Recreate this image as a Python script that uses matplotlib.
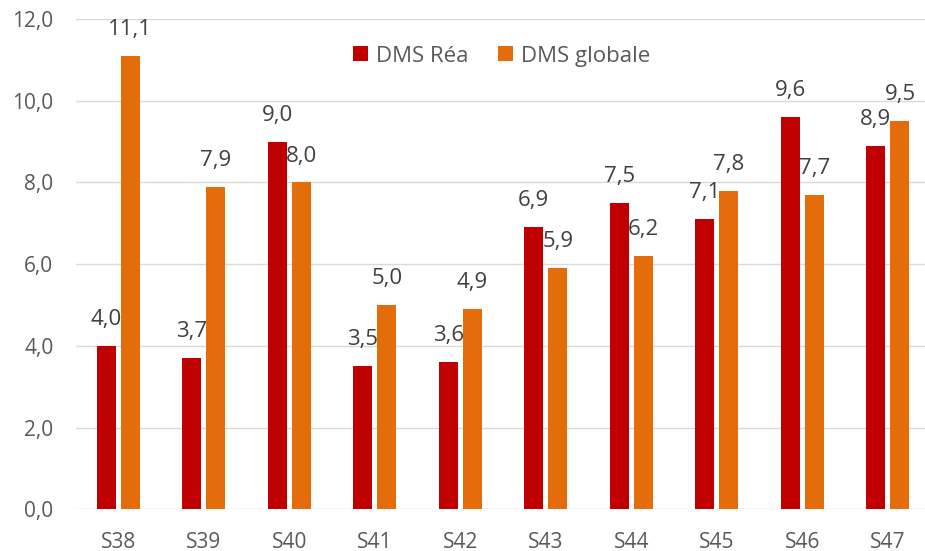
import numpy as np
import matplotlib.pyplot as plt

weeks = ['S38', 'S39', 'S40', 'S41', 'S42', 'S43', 'S44', 'S45', 'S46', 'S47']
dms_rea = [4.0, 3.7, 9.0, 3.5, 3.6, 6.9, 7.5, 7.1, 9.6, 8.9]
dms_globale = [11.1, 7.9, 8.0, 5.0, 4.9, 5.9, 6.2, 7.8, 7.7, 9.5]

plt.rcParams['font.family'] = ['Open Sans', 'DejaVu Sans']

fig = plt.figure(figsize=(9.25, 5.51), dpi=100)
ax = fig.add_axes([75.5 / 925, 41.7 / 551, (925 - 75.5) / 925, (509.3 - 19) / 551])

x = np.arange(len(weeks))
w = 0.222
off = 0.142
b1 = ax.bar(x - off, dms_rea, w, color='#C00000', label='DMS Réa', zorder=3)
b2 = ax.bar(x + off, dms_globale, w, color='#E46C0A', label='DMS globale', zorder=3)

# data labels above the bars, decimal comma
for bars in (b1, b2):
    for r in bars:
        h = r.get_height()
        ax.annotate(f'{h:.1f}'.replace('.', ','), (r.get_x() + r.get_width() / 2, h),
                    xytext=(0, 19), textcoords='offset points', ha='center', va='center',
                    fontsize=16, color='#404040', annotation_clip=False)

ax.set_xlim(-0.5, 9.435)
ax.set_ylim(0, 12)
ax.set_yticks(np.arange(0, 12.1, 2))
ax.set_yticklabels([f'{v:.1f}'.replace('.', ',') for v in np.arange(0, 12.1, 2)])
ax.set_xticks(x)
ax.set_xticklabels(weeks)
ax.tick_params(axis='both', length=0, labelsize=15, labelcolor='#595959')
ax.tick_params(axis='y', pad=16)
ax.tick_params(axis='x', pad=16)

ax.grid(axis='y', color='#D9D9D9', linewidth=1.0, zorder=0)
for s in ax.spines.values():
    s.set_visible(False)

leg = ax.legend(loc='center', bbox_to_anchor=(0.5015, 0.9245), ncol=2, frameon=False,
                fontsize=16, handlelength=0.68, handleheight=0.68, handletextpad=0.36,
                columnspacing=1.35)
for t in leg.get_texts():
    t.set_color('#595959')

fig.savefig('out.png', dpi=100)
